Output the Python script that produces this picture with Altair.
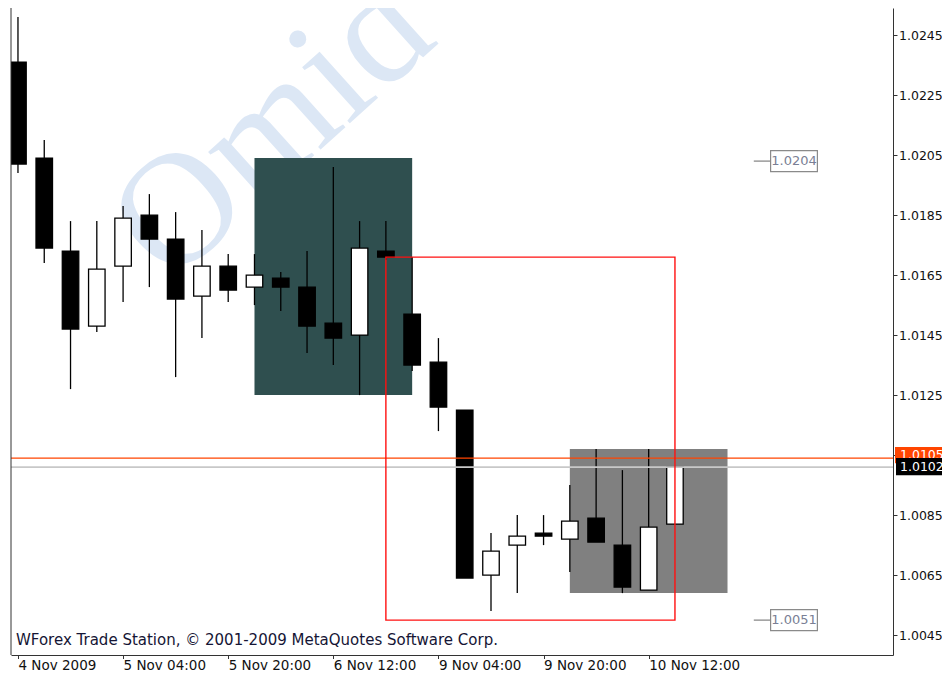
import altair as alt
import pandas as pd

# ---------------- data (USDCHF-like, H4 bars) ----------------
bar_index = list(range(26))
opens  = [1.0237, 1.0205, 1.0174, 1.0149, 1.0169, 1.0186, 1.0178, 1.0159, 1.0169, 1.0162,
          1.0165, 1.0162, 1.0150, 1.0146, 1.0174, 1.0153, 1.0137, 1.0121, 1.0066, 1.0076,
          1.0080, 1.0078, 1.0085, 1.0076, 1.0061, 1.0083]
highs  = [1.0252, 1.0211, 1.0184, 1.0184, 1.0189, 1.0193, 1.0187, 1.0181, 1.0173, 1.0173,
          1.0167, 1.0174, 1.0202, 1.0184, 1.0184, 1.0172, 1.0145, 1.0121, 1.0080, 1.0086,
          1.0086, 1.0096, 1.0108, 1.0101, 1.0108, 1.0102]
lows   = [1.0200, 1.0170, 1.0128, 1.0147, 1.0157, 1.0162, 1.0132, 1.0145, 1.0157, 1.0156,
          1.0154, 1.0140, 1.0136, 1.0126, 1.0171, 1.0134, 1.0114, 1.0065, 1.0054, 1.0060,
          1.0076, 1.0067, 1.0077, 1.0060, 1.0061, 1.0083]
closes = [1.0203, 1.0175, 1.0148, 1.0168, 1.0185, 1.0178, 1.0158, 1.0169, 1.0161, 1.0166,
          1.0162, 1.0149, 1.0145, 1.0175, 1.0172, 1.0136, 1.0122, 1.0065, 1.0074, 1.0079,
          1.0079, 1.0084, 1.0077, 1.0062, 1.0082, 1.0102]

time_tick_bars = [0, 4, 8, 12, 16, 20, 24]
time_tick_labels = ["4 Nov 2009", "5 Nov 04:00", "5 Nov 20:00", "6 Nov 12:00",
                    "9 Nov 04:00", "9 Nov 20:00", "10 Nov 12:00"]
price_ticks = [1.0045, 1.0065, 1.0085, 1.0105, 1.0125, 1.0145, 1.0165, 1.0185, 1.0205, 1.0225, 1.0245]

# drawn objects
dark_zone = {"x1": [9], "x2": [15], "top": [1.0205], "bottom": [1.0126]}
gray_zone = {"x1": [21], "x2": [27], "top": [1.0108], "bottom": [1.0060]}
red_box = {"x1": [14], "x2": [25], "top": [1.0172], "bottom": [1.0051]}
price_label_bar = [28, 28]
price_label_values = [1.0204, 1.0051]
bid_price = [1.0102]
ask_price = [1.0105]

copyright_text = ["WForex Trade Station, \u00a9 2001-2009 MetaQuotes Software Corp."]
watermark_text = ["Omid"]

# ---------------- chart ----------------
W, H = 882, 647
FONT = "DejaVu Sans"
xscale = alt.Scale(domain=[-0.075, 33.107], nice=False, zero=False)
yscale = alt.Scale(domain=[1.003937, 1.025503], nice=False, zero=False)

label_js = "[" + ",".join("'" + s + "'" for s in time_tick_labels) + "]"
x_axis = alt.Axis(values=time_tick_bars, labelExpr=label_js + "[round(datum.value/4)]",
                  title=None, grid=False, labelAlign="left", labelBaseline="alphabetic",
                  labelPadding=10.5, tickSize=3.5, domainColor="#333", tickColor="#333",
                  labelColor="#111", labelFont=FONT, labelFontSize=13.5,
                  labelFlush=False, labelOverlap=False)
y_axis = alt.Axis(values=price_ticks, format=".4f", orient="right", title=None, grid=False,
                  tickSize=4, labelPadding=1.5, tickOffset=-3, domainColor="#333",
                  tickColor="#333", labelColor="#111", labelFont=FONT, labelFontSize=12.5,
                  labelFlush=False, labelOverlap=False)

df = pd.DataFrame({"i": bar_index, "open": opens, "high": highs, "low": lows, "close": closes})

X = lambda f: alt.X(f, scale=xscale, axis=x_axis)
Y = lambda f: alt.Y(f, scale=yscale, axis=y_axis)

watermark = alt.Chart(pd.DataFrame({"t": watermark_text})).mark_text(
    font="Liberation Serif", fontSize=160, color="#dce7f5", angle=318,
    align="left", baseline="alphabetic", clip=True
).encode(text="t:N", x=alt.value(158), y=alt.value(278))

def zone(d, color):
    return alt.Chart(pd.DataFrame(d)).mark_rect(color=color, clip=True).encode(
        x=X("x1:Q"), x2="x2:Q", y=Y("top:Q"), y2="bottom:Q")

dark = zone(dark_zone, "#2f4f4f")
gray = zone(gray_zone, "#808080")

wicks = alt.Chart(df).mark_rule(color="black", strokeWidth=1.3, clip=True).encode(
    x=X("i:Q"), y=Y("low:Q"), y2="high:Q")
bodies = alt.Chart(df).mark_bar(size=16.5, stroke="black", strokeWidth=1.3, clip=True).encode(
    x=X("i:Q"), y=Y("open:Q"), y2="close:Q",
    fill=alt.condition("datum.close >= datum.open", alt.value("white"), alt.value("black")))

ask_line = alt.Chart(pd.DataFrame({"v": ask_price})).mark_rule(color="#ff4500", strokeWidth=1.3).encode(y=Y("v:Q"))
bid_line = alt.Chart(pd.DataFrame({"v": bid_price})).mark_rule(color="#c8c8c8", strokeWidth=1.6).encode(y=Y("v:Q"))

red = alt.Chart(pd.DataFrame(red_box)).mark_rect(fillOpacity=0, stroke="#ff1010", strokeWidth=1.4, clip=True).encode(
    x=X("x1:Q"), x2="x2:Q", y=Y("top:Q"), y2="bottom:Q")

pl = alt.Chart(pd.DataFrame({"bar": price_label_bar, "v": price_label_values})).transform_calculate(
    lx2="datum.bar + 0.64", bx2="datum.bar + 2.42", tx="datum.bar + 1.53",
    top="datum.v + 0.00035", bot="datum.v - 0.00035", txt="format(datum.v, '.4f')")
pl_lead = pl.mark_rule(color="#808080", strokeWidth=1.2).encode(x=X("bar:Q"), x2="lx2:Q", y=Y("v:Q"))
pl_box = pl.mark_rect(fill="white", stroke="#8a8a8a", strokeWidth=1.2).encode(
    x=X("lx2:Q"), x2="bx2:Q", y=Y("top:Q"), y2="bot:Q")
pl_text = pl.mark_text(font=FONT, fontSize=13, color="#7a7f95", align="center", baseline="middle").encode(
    x=X("tx:Q"), y=Y("v:Q"), text="txt:N")

credit = alt.Chart(pd.DataFrame({"t": copyright_text})).mark_text(
    font=FONT, fontSize=15, color="#151535", align="left", baseline="alphabetic"
).encode(text="t:N", x=alt.value(5), y=alt.value(637))

left_border = alt.Chart(pd.DataFrame({"a": [0]})).mark_rule(color="#333").encode(
    x=alt.value(0), y=alt.value(0), y2=alt.value(H))

ask_df = pd.DataFrame({"v": ask_price})
ask_tag = alt.Chart(ask_df).transform_calculate(top="datum.v + 0.00037", bot="datum.v - 0.00017",
                                               mid="datum.v + 0.0001", txt="format(datum.v, '.4f')")
ask_box = ask_tag.mark_rect(fill="#ff4500", clip=False).encode(
    x=alt.value(W + 2), x2=alt.value(W + 49), y=Y("top:Q"), y2="bot:Q")
ask_txt = ask_tag.mark_text(font=FONT, fontSize=12.5, color="white", align="left", baseline="middle", clip=False).encode(
    x=alt.value(W + 7), y=Y("mid:Q"), text="txt:N")

bid_df = pd.DataFrame({"v": bid_price})
bid_tag = alt.Chart(bid_df).transform_calculate(top="datum.v + 0.00030", bot="datum.v - 0.00027",
                                               txt="format(datum.v, '.4f')")
bid_box = bid_tag.mark_rect(fill="black", clip=False).encode(
    x=alt.value(W + 3), x2=alt.value(W + 49), y=Y("top:Q"), y2="bot:Q")
bid_txt = bid_tag.mark_text(font=FONT, fontSize=12.5, color="white", align="left", baseline="middle", clip=False).encode(
    x=alt.value(W + 7), y=Y("v:Q"), text="txt:N")

chart = alt.layer(
    watermark, dark, gray, wicks, bodies, ask_line, bid_line, red,
    pl_lead, pl_box, pl_text, credit, left_border, ask_box, ask_txt, bid_box, bid_txt
).properties(
    width=W, height=H,
    padding={"left": 3, "top": 0, "right": 49, "bottom": 16},
    autosize=alt.AutoSizeParams(type="none"),
).configure(background="white").configure_view(stroke=None)

chart.save("out.html", embed_options={"renderer": "svg", "actions": False})
